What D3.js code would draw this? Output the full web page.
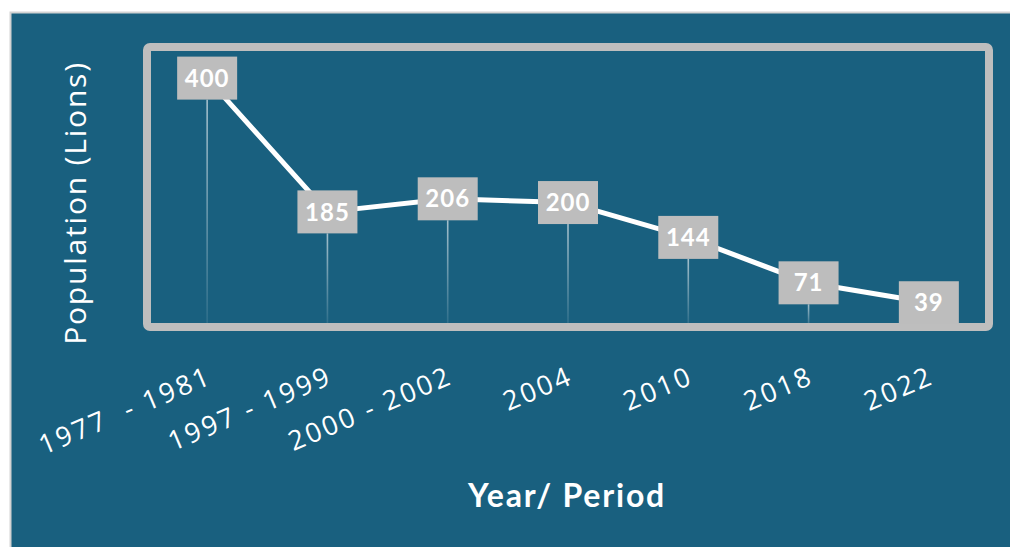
<!DOCTYPE html>
<html>
<head>
<meta charset="utf-8">
<script src="https://cdn.jsdelivr.net/npm/d3@7"></script>
<style>
  html, body { margin: 0; padding: 0; background: #ffffff; }
  svg { display: block; }
</style>
</head>
<body>
<svg id="chart" width="1010" height="547"></svg>
<script>
// Lion population by survey year / period
const periods = ["1977  - 1981", "1997 - 1999", "2000 - 2002", "2004", "2010", "2018", "2022"];
const population = [400, 185, 206, 200, 144, 71, 39];
const yMax = 450;

const W = 1010, H = 547;
const panelBg = "#19607f";
const frameGray = "#bebebe";
const boxGray = "#bdbdbd";

const svg = d3.select("#chart");

// outer panel
svg.append("rect")
  .attr("x", 10.5).attr("y", 12.5)
  .attr("width", W).attr("height", H)
  .attr("fill", panelBg)
  .attr("stroke", "#d3d3d3").attr("stroke-width", 2);

// plot area
const plot = { left: 147, right: 989, top: 47, bottom: 327 };

const data = periods.map((p, i) => ({ period: p, value: population[i] }));

const x = d3.scalePoint()
  .domain(periods)
  .range([plot.left, plot.right])
  .padding(0.5);

const y = d3.scaleLinear()
  .domain([0, yMax])
  .range([plot.bottom, plot.top]);

// gradient for the drop lines
const defs = svg.append("defs");
const grad = defs.append("linearGradient")
  .attr("id", "dropFade")
  .attr("x1", 0).attr("y1", 0).attr("x2", 0).attr("y2", 1);
grad.append("stop").attr("offset", "0%").attr("stop-color", "#ffffff").attr("stop-opacity", 0.6);
grad.append("stop").attr("offset", "100%").attr("stop-color", "#ffffff").attr("stop-opacity", 0.08);

const boxW = 60, boxH = 43;

// drop lines from each label box to the baseline
svg.append("g").selectAll("rect")
  .data(data)
  .join("rect")
  .attr("x", d => x(d.period) - 0.8)
  .attr("y", d => y(d.value) + boxH / 2)
  .attr("width", 1.6)
  .attr("height", d => Math.max(0, y(0) - (y(d.value) + boxH / 2)))
  .attr("fill", "url(#dropFade)");

// population line
const line = d3.line()
  .x(d => x(d.period))
  .y(d => y(d.value));

svg.append("path")
  .datum(data)
  .attr("d", line)
  .attr("fill", "none")
  .attr("stroke", "#ffffff")
  .attr("stroke-width", 5)
  .attr("stroke-linejoin", "round");

// frame
svg.append("rect")
  .attr("x", plot.left).attr("y", plot.top)
  .attr("width", plot.right - plot.left)
  .attr("height", plot.bottom - plot.top)
  .attr("rx", 3)
  .attr("fill", "none")
  .attr("stroke", frameGray)
  .attr("stroke-width", 8);

// value label boxes
const labels = svg.append("g").selectAll("g")
  .data(data)
  .join("g")
  .attr("transform", d => `translate(${x(d.period)},${y(d.value)})`);

labels.append("rect")
  .attr("x", -boxW / 2).attr("y", -boxH / 2)
  .attr("width", boxW).attr("height", boxH)
  .attr("fill", boxGray);

labels.append("text")
  .attr("text-anchor", "middle")
  .attr("dy", "0.36em")
  .attr("fill", "#ffffff")
  .attr("font-family", "Lato, 'Open Sans', sans-serif")
  .attr("font-weight", 700)
  .attr("font-size", 24)
  .attr("letter-spacing", 1)
  .text(d => d.value);

// x axis tick labels, rotated
const xAxis = d3.axisBottom(x).tickSize(0).tickPadding(0);
const xg = svg.append("g")
  .attr("transform", `translate(0,${plot.bottom})`)
  .call(xAxis);
xg.select(".domain").remove();
xg.selectAll(".tick text")
  .attr("fill", "#ffffff")
  .attr("font-family", "'Open Sans', sans-serif")
  .attr("font-size", 27)
  .attr("letter-spacing", 2.6)
  .style("white-space", "pre")
  .attr("text-anchor", "end")
  .attr("dy", null)
  .attr("y", null)
  .attr("transform", "translate(6,56) rotate(-23)");

// axis titles
svg.append("text")
  .attr("x", 567).attr("y", 507)
  .attr("text-anchor", "middle")
  .attr("fill", "#ffffff")
  .attr("font-family", "Lato, sans-serif")
  .attr("font-weight", 700)
  .attr("font-size", 32)
  .attr("letter-spacing", 1.8)
  .text("Year/ Period");

svg.append("text")
  .attr("transform", "translate(86,203) rotate(-90)")
  .attr("text-anchor", "middle")
  .attr("fill", "#ffffff")
  .attr("font-family", "'Open Sans', sans-serif")
  .attr("font-size", 30)
  .attr("letter-spacing", 1.8)
  .text("Population (Lions)");
</script>
</body>
</html>
